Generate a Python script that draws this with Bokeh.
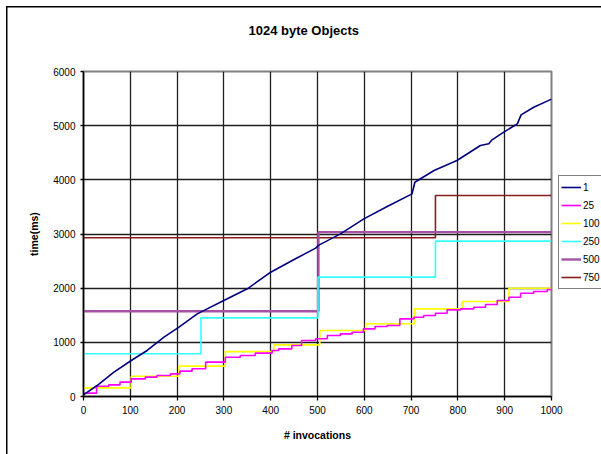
from bokeh.plotting import figure
from bokeh.models import Range1d, Legend, LegendItem, FixedTicker, Title
from bokeh.embed import file_html
from bokeh.resources import INLINE

FONT = "Liberation Sans"

# batch size 1: measured time after each invocation count
inv_1 = [0, 29, 65, 102, 136, 172, 204, 243, 303, 350, 400, 449, 496, 502,
         549, 599, 649, 702, 708, 749, 798, 848, 866, 873, 898, 927, 935,
         962, 1000]
time_1 = [30, 203, 449, 665, 850, 1095, 1280, 1526, 1785, 1988, 2295, 2524,
          2740, 2790, 3003, 3280, 3507, 3741, 3956, 4172, 4357, 4634, 4665,
          4738, 4880, 5034, 5200, 5341, 5490]

# batched series: invocation count where each level starts, and the level
inv_25 = [0, 28, 54, 78, 102, 132, 157, 186, 206, 232, 261, 303, 335, 367,
          403, 417, 445, 466, 496, 521, 549, 574, 598, 623, 649, 676, 706,
          727, 752, 777, 806, 834, 859, 884, 909, 934, 962, 991]
time_25 = [62, 190, 215, 265, 326, 357, 388, 418, 468, 511, 634, 726, 757,
           800, 849, 880, 941, 1034, 1065, 1126, 1157, 1187, 1249, 1292, 1310,
           1434, 1464, 1495, 1538, 1600, 1618, 1649, 1698, 1772, 1833, 1907,
           1938, 1975]

inv_100 = [0, 102, 204, 303, 407, 505, 603, 707, 809, 909]
time_100 = [160, 375, 560, 828, 954, 1218, 1342, 1618, 1753, 1999]

inv_250 = [0, 251, 501, 752]
time_250 = [788, 1452, 2203, 2868]

inv_500 = [0, 502]
time_500 = [1575, 3034]

inv_750 = [0, 752]
time_750 = [2930, 3711]

x_ticks = list(range(0, 1001, 100))
y_ticks = list(range(0, 6001, 1000))

p = figure(frame_width=468, frame_height=325,
           output_backend="svg", toolbar_location=None,
           x_range=Range1d(0, 1000), y_range=Range1d(0, 6000),
           min_border_left=83, min_border_right=50,
           min_border_top=71, min_border_bottom=58)
p.background_fill_color = "white"
p.border_fill_color = None
p.outline_line_color = "#808080"
p.outline_line_width = 2

# chart-area border drawn on the page element behind the canvas
p.styles = {
    "background-color": "white",
    "background-image": "linear-gradient(black, black), linear-gradient(black, black)",
    "background-size": "1.5px 100%, 100% 1.5px",
    "background-position": "6px 6px, 6px 6px",
    "background-repeat": "no-repeat",
}

# a blank strip between the frame and the title lifts the title upward
gap = Title(text=" ", text_font_size="1px", standoff=26)
p.add_layout(gap, "above")

# title
p.title.text = "1024 byte Objects"
p.title.align = "left"
p.title.offset = 165
p.title.standoff = 10
p.title.text_font = FONT
p.title.text_font_size = "13px"
p.title.text_font_style = "bold"
p.title.text_color = "black"

# grid
p.xgrid.ticker = FixedTicker(ticks=x_ticks[:-1])
p.ygrid.ticker = FixedTicker(ticks=y_ticks[:-1])
p.grid.grid_line_color = "#1e1e1e"
p.grid.grid_line_width = 1.3
p.grid.grid_line_alpha = 1.0

# axes
p.xaxis.ticker = FixedTicker(ticks=x_ticks)
p.yaxis.ticker = FixedTicker(ticks=y_ticks)
for ax in (p.xaxis[0], p.yaxis[0]):
    ax.axis_line_color = "black"
    ax.axis_line_width = 1.5
    ax.major_tick_line_color = "black"
    ax.major_tick_line_width = 1.3
    ax.major_tick_in = 0
    ax.minor_tick_line_color = None
    ax.major_label_text_font = FONT
    ax.major_label_text_font_size = "10px"
    ax.major_label_text_color = "black"
    ax.axis_label_text_font = FONT
    ax.axis_label_text_font_size = "10.5px"
    ax.axis_label_text_font_style = "bold"
    ax.axis_label_text_color = "black"
p.xaxis.major_tick_out = 4
p.yaxis.major_tick_out = 3
p.xaxis.axis_label = "# invocations"
p.yaxis.axis_label = "time(ms)"
p.xaxis.axis_label_standoff = 12
p.yaxis.axis_label_standoff = 10


def steps(xs, ys):
    return list(xs) + [1000], list(ys) + [ys[-1]]


sx, sy = steps(inv_750, time_750)
r750 = p.step(sx, sy, mode="after", line_color="#8B1C1C", line_width=1.6)
sx, sy = steps(inv_500, time_500)
r500 = p.step(sx, sy, mode="after", line_color="#A552A5", line_width=2.4)
sx, sy = steps(inv_250, time_250)
r250 = p.step(sx, sy, mode="after", line_color="#33FFFF", line_width=1.6)
sx, sy = steps(inv_100, time_100)
r100 = p.step(sx, sy, mode="after", line_color="#FFFF00", line_width=1.6)
sx, sy = steps(inv_25, time_25)
r25 = p.step(sx, sy, mode="after", line_color="#FF00FF", line_width=1.6)
r1 = p.line(inv_1, time_1, line_color="#000080", line_width=1.6)

legend = Legend(
    items=[LegendItem(label="1", renderers=[r1]),
           LegendItem(label="25", renderers=[r25]),
           LegendItem(label="100", renderers=[r100]),
           LegendItem(label="250", renderers=[r250]),
           LegendItem(label="500", renderers=[r500]),
           LegendItem(label="750", renderers=[r750])],
    location=(7, 107), orientation="vertical",
    padding=2, spacing=0, margin=0,
    glyph_width=20, glyph_height=18, label_height=18, label_standoff=2,
    label_text_font=FONT, label_text_font_size="10px",
    label_text_color="black",
    border_line_color="black", border_line_width=1,
    background_fill_color="white", background_fill_alpha=1.0)
p.add_layout(legend, "right")

open("out.html", "w").write(file_html(p, INLINE))
